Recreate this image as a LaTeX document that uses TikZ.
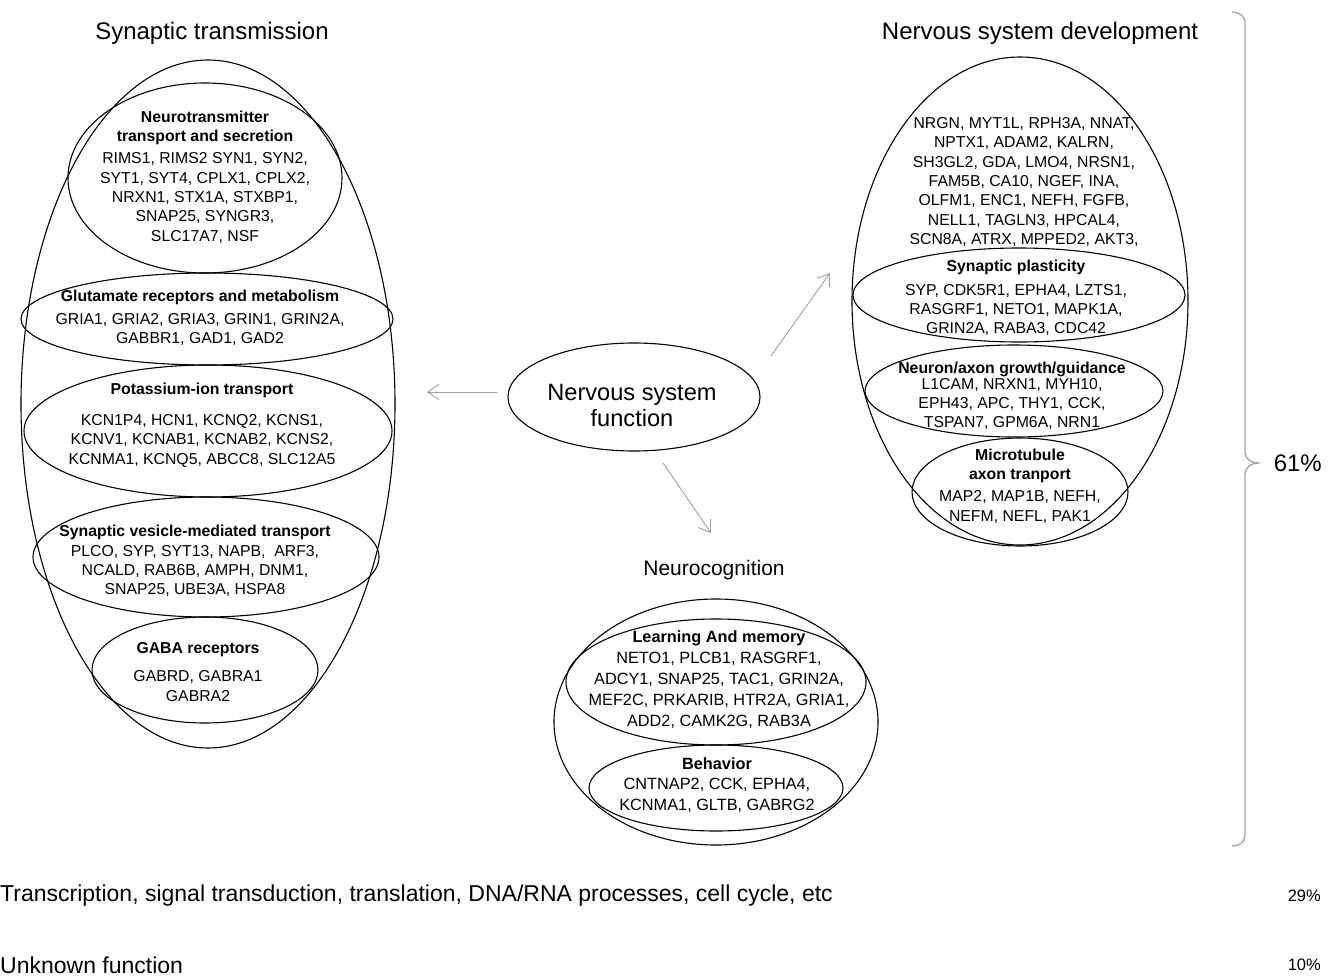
\documentclass[tikz,border=0pt]{standalone}
\usepackage{fontspec}
\setmainfont{Liberation Sans}
\usetikzlibrary{shapes.geometric,arrows.meta}

\tikzset{
  oval/.style={draw, ellipse, line width=1.1pt, inner sep=0pt, outer sep=0pt},
  genes/.style={align=center, inner sep=0pt, font=\fontsize{15.8}{19.3}\selectfont},
  group/.style={inner sep=0pt, font=\fontsize{24}{27}\selectfont},
  share/.style={inner sep=0pt, font=\fontsize{23}{26}\selectfont},
  arr/.style={draw=gray!75, line width=0.9pt, -{Straight Barb[length=11pt,width=15pt]}},
  brace/.style={draw=gray!70, line width=1.4pt}
}

\begin{document}
\begin{tikzpicture}[x=1pt,y=-1pt]
\useasboundingbox (0,0) rectangle (1336,977);

% synaptic transmission
\node[group] (synT) at (212,33) {Synaptic transmission};
\node[oval, minimum width=374pt, minimum height=688pt] (syn) at (208,404) {};
\node[oval, minimum width=274pt, minimum height=190pt] (ntr) at (205,178) {};
\node[oval, minimum width=372pt, minimum height=92pt] (glu) at (207,319) {};
\node[oval, minimum width=368pt, minimum height=132pt] (pot) at (208,431) {};
\node[oval, minimum width=346pt, minimum height=120pt] (ves) at (206,557) {};
\node[oval, minimum width=226pt, minimum height=106pt] (gaba) at (205,670) {};

\node[genes] (ntrT) at (205,177) {\textbf{Neurotransmitter}\\\textbf{transport and secretion}\\[3pt]RIMS1, RIMS2 SYN1, SYN2,\\SYT1, SYT4, CPLX1, CPLX2,\\NRXN1, STX1A, STXBP1,\\SNAP25, SYNGR3,\\SLC17A7, NSF};
\node[genes] (gluT) at (200,318) {\textbf{Glutamate receptors and metabolism}\\[3pt]GRIA1, GRIA2, GRIA3, GRIN1, GRIN2A,\\GABBR1, GAD1, GAD2};
\node[genes] (potT) at (202,425) {\textbf{Potassium-ion transport}\\[12pt]KCN1P4, HCN1, KCNQ2, KCNS1,\\KCNV1, KCNAB1, KCNAB2, KCNS2,\\KCNMA1, KCNQ5, ABCC8, SLC12A5};
\node[genes] (vesT) at (195,561) {\textbf{Synaptic vesicle-mediated transport}\\PLCO, SYP, SYT13, NAPB,\ \ ARF3,\\NCALD, RAB6B, AMPH, DNM1,\\SNAP25, UBE3A, HSPA8};
\node[genes] (gabaT) at (198,672) {\textbf{GABA receptors}\\[9pt]GABRD, GABRA1\\GABRA2};

% centre
\node[oval, minimum width=252pt, minimum height=108pt] (fn) at (634,397) {};
\node[group, align=center, font=\fontsize{23.6}{26}\selectfont] (fnT) at (632,405) {Nervous system\\function};

% nervous system development
\node[group] (devT) at (1040,33) {Nervous system development};
\node[oval, minimum width=336pt, minimum height=488pt] (dev) at (1020,301) {};
\node[oval, minimum width=332pt, minimum height=94pt] (plas) at (1019,295) {};
\node[oval, minimum width=298pt, minimum height=92pt] (nag) at (1014,391) {};
\node[oval, minimum width=216pt, minimum height=108pt] (mtb) at (1020,492) {};

\node[genes] (devG) at (1024,182) {NRGN, MYT1L, RPH3A, NNAT,\\NPTX1, ADAM2, KALRN,\\SH3GL2, GDA, LMO4, NRSN1,\\FAM5B, CA10, NGEF, INA,\\OLFM1, ENC1, NEFH, FGFB,\\NELL1, TAGLN3, HPCAL4,\\SCN8A, ATRX, MPPED2, AKT3,};
\node[genes] (plasT) at (1016,298) {\textbf{Synaptic plasticity}\\[4pt]SYP, CDK5R1, EPHA4, LZTS1,\\RASGRF1, NETO1, MAPK1A,\\GRIN2A, RABA3, CDC42};
\node[genes] (nagT) at (1012,396) {\textbf{Neuron/axon growth/guidance}\\[-4pt]L1CAM, NRXN1, MYH10,\\EPH43, APC, THY1, CCK,\\TSPAN7, GPM6A, NRN1};
\node[genes] (mtbT) at (1020,486) {\textbf{Microtubule}\\\textbf{axon tranport}\\[3pt]MAP2, MAP1B, NEFH,\\NEFM, NEFL, PAK1};

% neurocognition
\node[group, font=\fontsize{21}{24}\selectfont] (cogT) at (714,570) {Neurocognition};
\node[oval, minimum width=324pt, minimum height=246pt] (cog) at (716,722) {};
\node[oval, minimum width=300pt, minimum height=126pt] (lam) at (716,682) {};
\node[oval, minimum width=254pt, minimum height=86pt] (beh) at (716,788) {};

\node[genes, font=\fontsize{16.3}{21}\selectfont] (lamT) at (719,680) {\textbf{Learning And memory}\\NETO1, PLCB1, RASGRF1,\\ADCY1, SNAP25, TAC1, GRIN2A,\\MEF2C, PRKARIB, HTR2A, GRIA1,\\ADD2, CAMK2G, RAB3A};
\node[genes, font=\fontsize{16.3}{20.5}\selectfont] (behT) at (717,785) {\textbf{Behavior}\\CNTNAP2, CCK, EPHA4,\\KCNMA1, GLTB, GABRG2};

% arrows
\coordinate (tipL) at (427,392);
\coordinate (tipNE) at (830,273);
\coordinate (tipS) at (711,533);
\draw[arr] ([shift={(-11,-5)}]fn.west) -- (tipL);
\draw[arr] ([shift={(11,-41)}]fn.east) -- (tipNE);
\draw[arr] ([shift={(29,12)}]fn.south) -- (tipS);

% bracket
\node[group, anchor=east] (p61) at (1322,463) {61\%};
\draw[brace] (1232,12) to[out=0,in=90] (1245,22) -- (1245,452)
  to[out=-90,in=180] (1258,463) to[out=180,in=90] (1245,474)
  -- (1245,836) to[out=-90,in=0] (1232,846);

% rest
\node[share, anchor=west] (trn) at (0,896) {Transcription, signal transduction, translation, DNA/RNA processes, cell cycle, etc};
\node[share, anchor=east, font=\fontsize{16.5}{20}\selectfont] (p29) at (1321,896) {29\%};
\node[share, anchor=west] (unk) at (0,965) {Unknown function};
\node[share, anchor=east, font=\fontsize{16.5}{20}\selectfont] (p10) at (1321,965) {10\%};

\end{tikzpicture}
\end{document}
